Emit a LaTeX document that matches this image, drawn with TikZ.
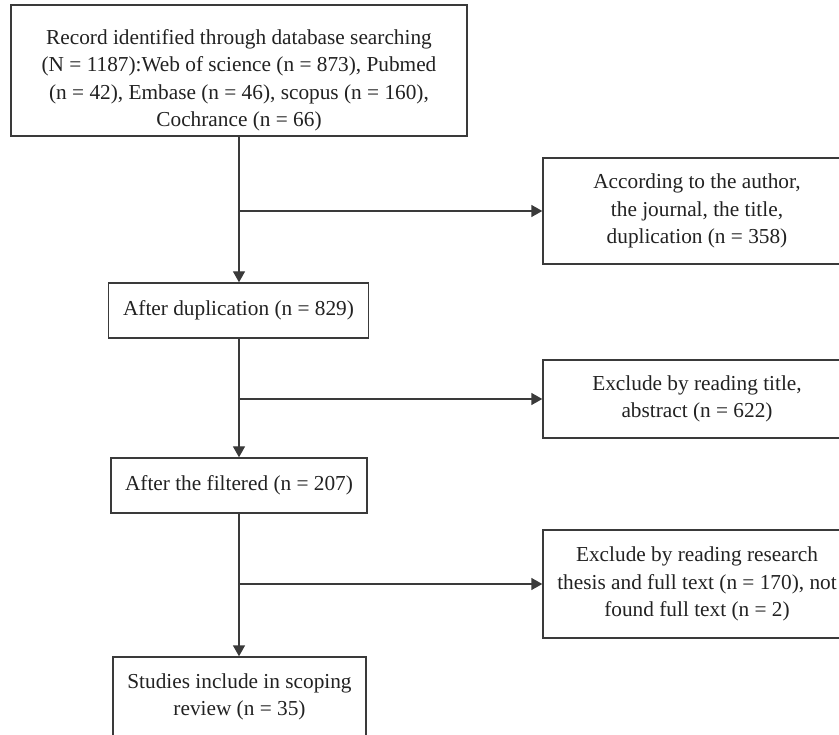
\documentclass[tikz,border=0pt]{standalone}
\usepackage{fontspec}
\setmainfont{Liberation Serif}
\usetikzlibrary{arrows.meta}
\definecolor{linegray}{HTML}{3A3A3A}
\definecolor{textgray}{HTML}{222222}
\tikzset{
  box/.style={draw=linegray, line width=1.4pt, fill=white, align=center, inner sep=0pt,
    text=textgray, font=\fontsize{21.3}{27.5}\selectfont},
  conn/.style={draw=linegray, line width=1.4pt},
  arr/.style={conn, -{Triangle[length=11pt,width=12pt]}}
}
\begin{document}
\begin{tikzpicture}[x=1pt,y=-1pt]
\clip (0,0) rectangle (839,735);
\node[box, minimum width=456pt, minimum height=131pt] (b1) at (239,70.5)
  {\rule{0pt}{35pt}Record identified through database searching\\(N = 1187):Web of science (n = 873), Pubmed\\(n = 42), Embase (n = 46), scopus (n = 160),\\Cochrance (n = 66)};
\node[box, minimum width=260pt, minimum height=55pt] (b2) at (238.5,310.5)
  {After duplication (n = 829)};
\node[box, minimum width=256pt, minimum height=55pt] (b3) at (239,485.5)
  {After the filtered (n = 207)};
\node[box, minimum width=253pt, minimum height=80pt] (b4) at (239.5,697)
  {Studies include in scoping\\review (n = 35)};
\node[box, minimum width=308pt, minimum height=106pt] (r1) at (697,211)
  {According to the author,\\the journal, the title,\\duplication (n = 358)};
\node[box, minimum width=308pt, minimum height=78pt] (r2) at (697,399)
  {Exclude by reading title,\\abstract (n = 622)};
\node[box, minimum width=308pt, minimum height=108pt] (r3) at (697,584)
  {Exclude by reading research\\thesis and full text (n = 170), not\\found full text (n = 2)};
\draw[arr] (b1.south -| 239,0) -- (b2.north -| 239,0);
\draw[arr] (b2.south -| 239,0) -- (b3.north -| 239,0);
\draw[arr] (b3.south -| 239,0) -- (b4.north -| 239,0);
\draw[arr] (r1.west -| 239,0) -- (r1.west);
\draw[arr] (r2.west -| 239,0) -- (r2.west);
\draw[arr] (r3.west -| 239,0) -- (r3.west);
\end{tikzpicture}
\end{document}
